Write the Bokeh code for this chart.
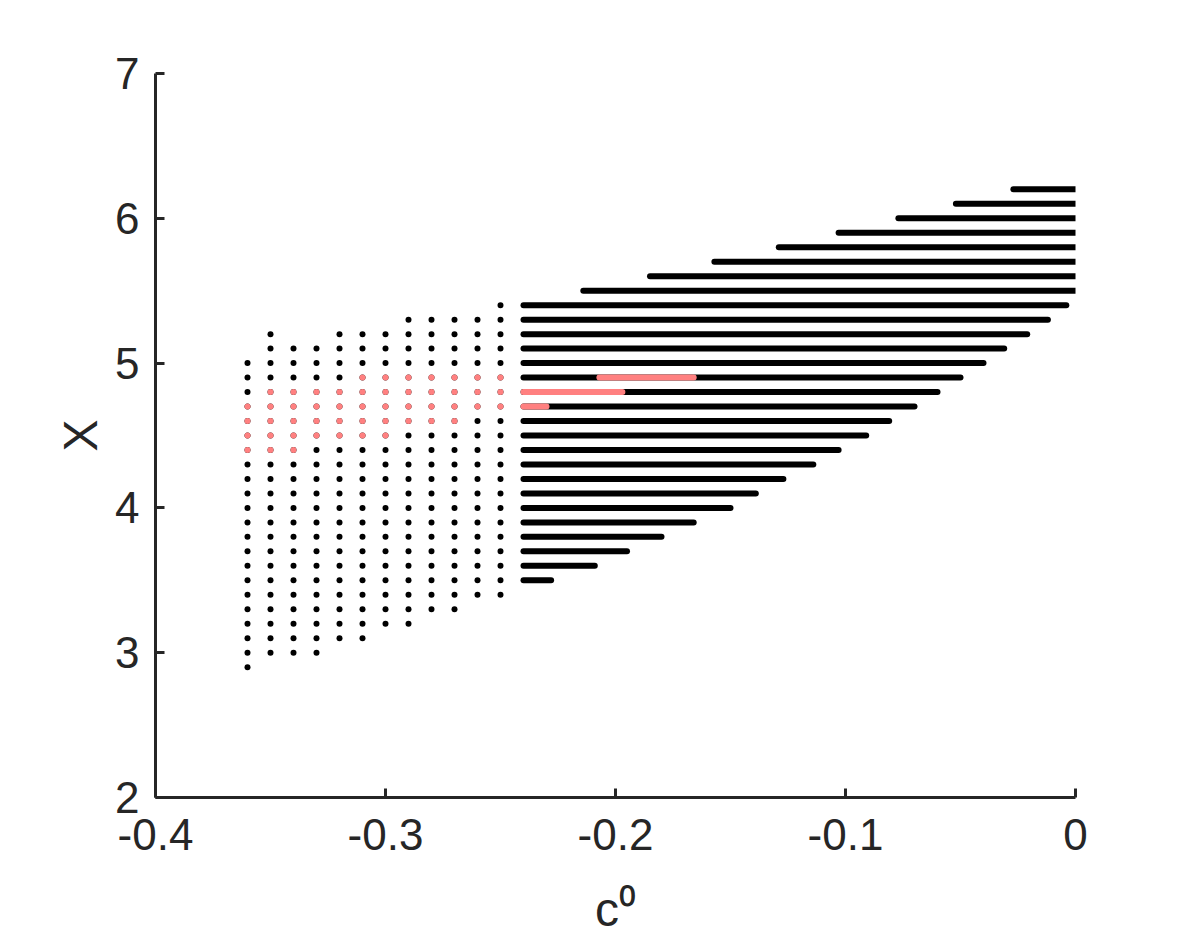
import numpy as np
from bokeh.plotting import figure
from bokeh.models import Range1d, FixedTicker
from bokeh.embed import file_html
from bokeh.resources import INLINE

# ---------------- data ----------------
# sparse region: columns of dots (c0 value, lowest X, highest X), X step 0.1
dot_col_x = [-0.36, -0.35, -0.34, -0.33, -0.32, -0.31, -0.30, -0.29, -0.28, -0.27, -0.26, -0.25]
dot_col_ylow = [2.9, 3.0, 3.0, 3.0, 3.1, 3.1, 3.2, 3.2, 3.3, 3.3, 3.4, 3.4]
dot_col_yhigh = [5.0, 5.2, 5.1, 5.1, 5.2, 5.2, 5.2, 5.3, 5.3, 5.3, 5.3, 5.4]

# highlighted dots: per X row, c0 range that is red
red_dot_y = [4.9, 4.8, 4.7, 4.6, 4.5, 4.4]
red_dot_xlow = [-0.31, -0.35, -0.36, -0.36, -0.36, -0.36]
red_dot_xhigh = [-0.25, -0.25, -0.25, -0.27, -0.30, -0.34]

# dense region: per X row, c0 start and end
seg_y = [6.2, 6.1, 6.0, 5.9, 5.8, 5.7, 5.6, 5.5, 5.4, 5.3, 5.2, 5.1, 5.0, 4.9,
         4.8, 4.7, 4.6, 4.5, 4.4, 4.3, 4.2, 4.1, 4.0, 3.9, 3.8, 3.7, 3.6, 3.5]
seg_x0 = [-0.027, -0.052, -0.077, -0.103, -0.129, -0.157, -0.185, -0.214, -0.24, -0.24,
          -0.24, -0.24, -0.24, -0.24, -0.24, -0.24, -0.24, -0.24, -0.24, -0.24,
          -0.24, -0.24, -0.24, -0.24, -0.24, -0.24, -0.24, -0.24]
seg_x1 = [0.0, 0.0, 0.0, 0.0, 0.0, 0.0, 0.0, 0.0, -0.004, -0.012,
          -0.021, -0.031, -0.040, -0.050, -0.060, -0.070, -0.081, -0.091, -0.103, -0.114,
          -0.127, -0.139, -0.150, -0.166, -0.180, -0.195, -0.209, -0.228]

# highlighted parts of dense rows
red_seg_y = [4.9, 4.8, 4.7]
red_seg_x0 = [-0.207, -0.24, -0.24]
red_seg_x1 = [-0.166, -0.197, -0.230]

x_ticks = [-0.4, -0.3, -0.2, -0.1, 0.0]
x_tick_labels = ["-0.4", "-0.3", "-0.2", "-0.1", "0"]
y_ticks = [2, 3, 4, 5, 6, 7]
x_label = "c\u2070"
y_label = "X"

# ---------------- build point sets ----------------
dx, dy = [], []
for cx, lo, hi in zip(dot_col_x, dot_col_ylow, dot_col_yhigh):
    n = int(round((hi - lo) / 0.1)) + 1
    for k in range(n):
        dx.append(cx)
        dy.append(round(lo + 0.1 * k, 1))

rx, ry = [], []
for yy, lo, hi in zip(red_dot_y, red_dot_xlow, red_dot_xhigh):
    n = int(round((hi - lo) / 0.01)) + 1
    for k in range(n):
        rx.append(round(lo + 0.01 * k, 2))
        ry.append(yy)

TEXT = "#262626"
RED = "#ff8080"
FONT = "Liberation Sans"

p = figure(width=1190, height=940, output_backend="svg", toolbar_location=None,
           x_range=Range1d(-0.4, 0.0), y_range=Range1d(2, 7),
           min_border_left=155, min_border_right=115, min_border_top=73, min_border_bottom=143)
p.outline_line_color = None
p.xgrid.visible = False
p.ygrid.visible = False
p.background_fill_color = "white"
p.border_fill_color = "white"

p.scatter(dx, dy, size=6, color="black", line_color=None)
p.scatter(rx, ry, size=6, color=RED, line_color=None)

p.segment(x0=seg_x0, y0=seg_y, x1=seg_x1, y1=seg_y, line_width=6, line_color="black", line_cap="round")
p.segment(x0=red_seg_x0, y0=red_seg_y, x1=red_seg_x1, y1=red_seg_y, line_width=6, line_color=RED, line_cap="round")

for ax in (p.xaxis[0], p.yaxis[0]):
    ax.axis_line_color = TEXT
    ax.axis_line_width = 3
    ax.major_tick_line_color = TEXT
    ax.major_tick_line_width = 3
    ax.major_tick_in = 9
    ax.major_tick_out = 0
    ax.minor_tick_line_color = None
    ax.major_label_text_font = FONT
    ax.major_label_text_font_size = "44px"
    ax.major_label_text_color = TEXT
    ax.axis_label_text_font = FONT
    ax.axis_label_text_font_style = "normal"
    ax.axis_label_text_color = TEXT
    ax.axis_label_text_font_size = "48px"

p.xaxis.ticker = FixedTicker(ticks=x_ticks)
p.xaxis.major_label_overrides = {t: s for t, s in zip(x_ticks, x_tick_labels)}
p.xaxis.major_label_standoff = 21
p.xaxis.axis_label = x_label
p.xaxis.axis_label_standoff = 30
p.yaxis.ticker = FixedTicker(ticks=y_ticks)
p.yaxis.major_label_standoff = 16
p.yaxis.axis_label = y_label
p.yaxis.axis_label_standoff = 5

open("out.html", "w").write(file_html(p, INLINE))
